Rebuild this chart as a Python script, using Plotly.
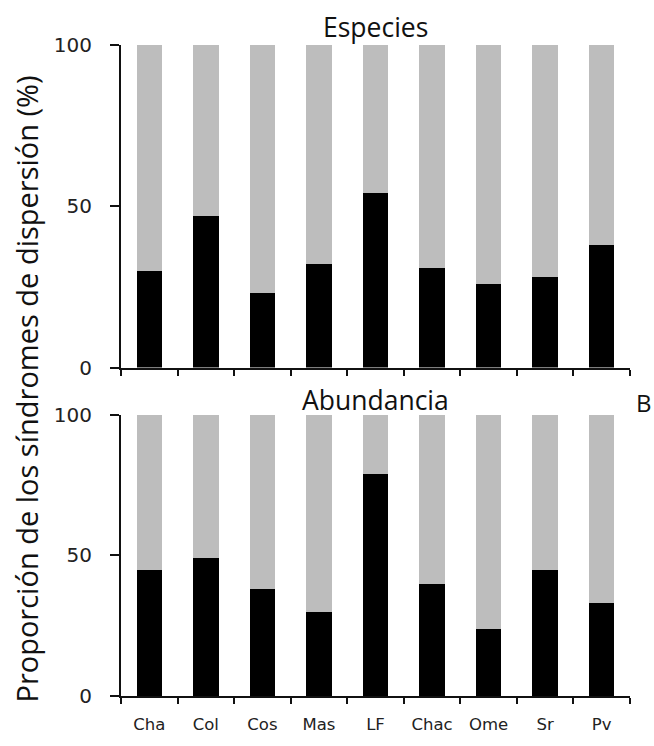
import plotly.graph_objects as go

categories = ["Cha", "Col", "Cos", "Mas", "LF", "Chac", "Ome", "Sr", "Pv"]
especies_black = [30, 47, 23, 32, 54, 31, 26, 28, 38]
especies_gray = [70, 53, 77, 68, 46, 69, 74, 72, 62]
abundancia_black = [45, 49, 38, 30, 79, 40, 24, 45, 33]
abundancia_gray = [55, 51, 62, 70, 21, 60, 76, 55, 67]
y_ticks = [0, 50, 100]

BLACK = "#000000"
GRAY = "#bdbdbd"
TICKFONT = "DejaVu Sans"
TITLEFONT = "Open Sans"
BAR_W = 0.45

fig = go.Figure()
fig.add_trace(go.Bar(x=categories, y=especies_black, marker_color=BLACK, width=BAR_W,
                     xaxis="x", yaxis="y", marker_line_width=0, showlegend=False))
fig.add_trace(go.Bar(x=categories, y=especies_gray, marker_color=GRAY, width=BAR_W,
                     xaxis="x", yaxis="y", marker_line_width=0, showlegend=False))
fig.add_trace(go.Bar(x=categories, y=abundancia_black, marker_color=BLACK, width=BAR_W,
                     xaxis="x2", yaxis="y2", marker_line_width=0, showlegend=False))
fig.add_trace(go.Bar(x=categories, y=abundancia_gray, marker_color=GRAY, width=BAR_W,
                     xaxis="x2", yaxis="y2", marker_line_width=0, showlegend=False))

xcommon = dict(type="category", range=[-0.5, 8.5], tickson="boundaries", ticks="outside",
               ticklen=6, tickwidth=2, tickcolor="#111", showline=True, linewidth=2,
               linecolor="#111", showgrid=False, zeroline=False, domain=[0, 1],
               tickfont=dict(family=TICKFONT, size=16.5, color="#222"))
ycommon = dict(range=[0, 100], tickvals=y_ticks, ticks="outside", ticklen=9, tickwidth=2,
               tickcolor="#111", showline=True, linewidth=2, linecolor="#111",
               showgrid=False, zeroline=False,
               tickfont=dict(family=TICKFONT, size=20, color="#222"),
               ticklabelstandoff=14)

fig.update_layout(
    barmode="stack",
    width=654, height=746,
    margin=dict(l=121, r=24, t=45, b=41),
    paper_bgcolor="white", plot_bgcolor="white",
    xaxis=dict(**xcommon, anchor="y", showticklabels=False),
    yaxis=dict(**ycommon, domain=[0.5045, 1], anchor="x"),
    xaxis2=dict(**xcommon, anchor="y2", ticklabelstandoff=12),
    yaxis2=dict(**ycommon, domain=[0, 0.4318], anchor="x2"),
)

fig.add_annotation(text="Especies", xref="paper", yref="paper", x=0.5, y=1.027,
                   xanchor="center", yanchor="middle", showarrow=False,
                   font=dict(family=TITLEFONT, size=26.5, color="#111"))
fig.add_annotation(text="Abundancia", xref="paper", yref="paper", x=0.5, y=0.4545,
                   xanchor="center", yanchor="middle", showarrow=False,
                   font=dict(family=TITLEFONT, size=26.5, color="#111"))
fig.add_annotation(text="B", xref="paper", yref="paper", x=1.028, y=0.451,
                   xanchor="center", yanchor="middle", showarrow=False,
                   font=dict(family=TITLEFONT, size=24, color="#111"))
fig.add_annotation(text="Proporción de los síndromes de dispersión (%)", xref="paper",
                   yref="paper", x=-0.185, y=0.472, xanchor="center", yanchor="middle",
                   textangle=-90, showarrow=False,
                   font=dict(family=TITLEFONT, size=29, color="#111"))

fig.write_html("out.html",
               config={"displayModeBar": False, "staticPlot": True},
               post_script="document.body.style.margin='0';document.body.style.overflow='hidden';")
